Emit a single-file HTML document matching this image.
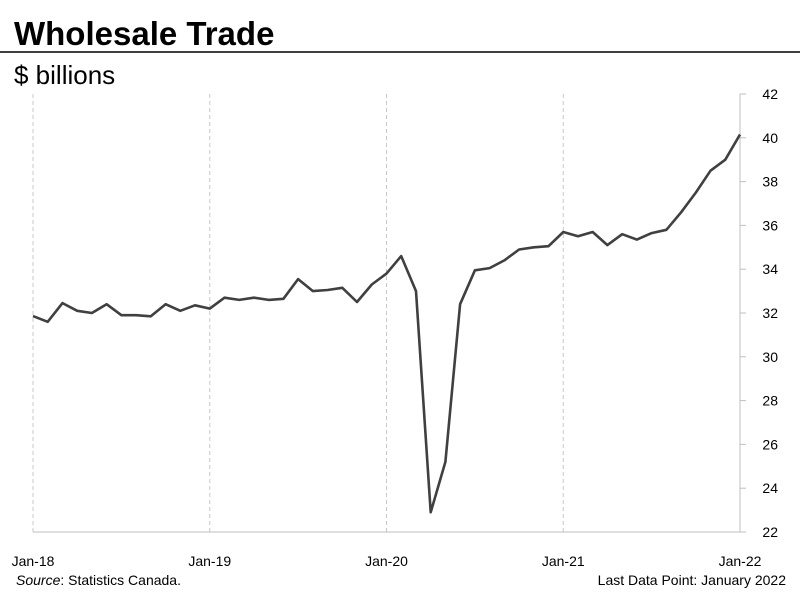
<!DOCTYPE html>
<html><head><meta charset="utf-8"><style>
body{margin:0;background:#fff;width:800px;height:600px;overflow:hidden;font-family:"Liberation Sans",Arial,sans-serif}
</style></head><body>
<svg width="800" height="600" font-family="Liberation Sans, Arial, sans-serif">
<text x="14" y="45" font-size="33" font-weight="bold" fill="#000">Wholesale Trade</text>
<line x1="0" y1="52" x2="800" y2="52" stroke="#000" stroke-width="1.5"/>
<text x="14" y="84" font-size="26" fill="#000">$ billions</text>
<g id="grid"></g><g id="axes"></g>
<path id="line" fill="none" stroke="#404040" stroke-width="2.6" stroke-linejoin="round"/>
<text x="16" y="585" font-size="14"><tspan font-style="italic">Source</tspan>: Statistics Canada.</text>
<text x="786" y="585" font-size="14" text-anchor="end">Last Data Point: January 2022</text>
</svg>
<script>
const values=[31.86,31.6,32.45,32.1,32.0,32.4,31.9,31.9,31.85,32.4,32.1,32.35,32.2,32.7,32.6,32.7,32.6,32.65,33.55,33.0,33.05,33.15,32.5,33.3,33.8,34.6,33.0,22.9,25.2,32.4,33.95,34.05,34.4,34.9,35.0,35.05,35.7,35.5,35.7,35.1,35.6,35.35,35.65,35.8,36.6,37.5,38.5,39.0,40.15];
const yTicks=[22,24,26,28,30,32,34,36,38,40,42];
const xLabels=["Jan-18","Jan-19","Jan-20","Jan-21","Jan-22"];
const x0=33,x1=740,y0=532,y1=94;
const X=i=>x0+(x1-x0)*i/(values.length-1);
const Y=v=>y0-(v-22)/(42-22)*(y0-y1);
const NS="http://www.w3.org/2000/svg";
const grid=document.getElementById('grid'),axes=document.getElementById('axes');
function mk(p,tag,a){const e=document.createElementNS(NS,tag);for(const k in a)e.setAttribute(k,a[k]);p.appendChild(e);return e;}
xLabels.forEach((l,j)=>{const x=X(j*12);
 if(j<4){const g=mk(grid,'line',{x1:x,y1:y1,x2:x,y2:y0,stroke:'#c8c8c8','stroke-dasharray':'4,3'});
 
 }
 const t=mk(axes,'text',{x:x,y:566,'font-size':14,'text-anchor':'middle'});t.textContent=l;
 
 });
const ax=mk(axes,'line',{x1:x1,y1:y1,x2:x1,y2:y0,stroke:'#bfbfbf'});


const bx=mk(axes,'line',{x1:x0,y1:y0,x2:x1,y2:y0,stroke:'#bfbfbf'});


yTicks.forEach(v=>{const y=Y(v);
 const tk=mk(axes,'line',{x1:x1,y1:y,x2:x1+6,y2:y,stroke:'#bfbfbf'});
 
 
 const t=mk(axes,'text',{x:778,y:y+5,'font-size':14,'text-anchor':'end'});t.textContent=v;
 
 });
document.getElementById('line').setAttribute('d',values.map((v,i)=>(i?'L':'M')+X(i).toFixed(1)+','+Y(v).toFixed(1)).join(''));
</script>
</body></html>
